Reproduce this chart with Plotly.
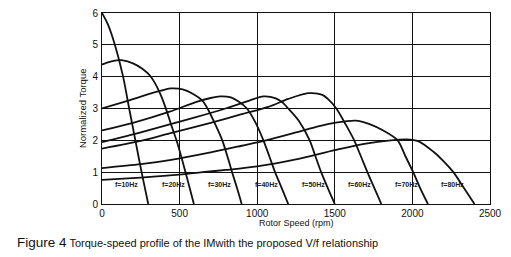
import plotly.graph_objects as go

freqs = [10, 20, 30, 40, 50, 60, 70, 80]

speed_10 = [0, 40, 83, 136, 175, 215, 255, 298]
torque_10 = [6.0, 5.62, 5.0, 4.0, 3.0, 2.0, 1.0, 0.0]

speed_20 = [0, 60, 125, 200, 260, 310, 350, 385, 415, 445, 480, 510, 538, 565, 592]
torque_20 = [4.38, 4.48, 4.52, 4.42, 4.25, 4.03, 3.72, 3.35, 2.95, 2.5, 2.0, 1.5, 1.0, 0.5, 0.0]

speed_30 = [0, 170, 300, 380, 440, 520, 590, 647, 680, 730, 775, 808, 838, 870, 900]
torque_30 = [3.0, 3.25, 3.45, 3.56, 3.63, 3.6, 3.45, 3.25, 3.0, 2.5, 2.0, 1.5, 1.0, 0.5, 0.0]

speed_40 = [0, 200, 436, 604, 700, 760, 830, 880, 934, 990, 1040, 1078, 1115, 1158, 1200]
torque_40 = [2.31, 2.55, 2.9, 3.2, 3.33, 3.38, 3.35, 3.22, 3.0, 2.55, 2.0, 1.5, 1.0, 0.5, 0.0]

speed_50 = [0, 250, 436, 600, 796, 950, 1040, 1120, 1160, 1200, 1270, 1338, 1375, 1412, 1455, 1500]
torque_50 = [1.94, 2.25, 2.5, 2.72, 3.0, 3.25, 3.38, 3.32, 3.2, 3.0, 2.6, 2.0, 1.5, 1.0, 0.5, 0.0]

speed_60 = [0, 250, 436, 700, 900, 1072, 1200, 1330, 1420, 1455, 1510, 1570, 1625, 1668, 1710, 1755, 1800]
torque_60 = [1.74, 1.98, 2.22, 2.55, 2.82, 3.05, 3.3, 3.48, 3.43, 3.3, 3.0, 2.5, 2.0, 1.5, 1.0, 0.5, 0.0]

speed_70 = [0, 250, 436, 700, 900, 1057, 1250, 1400, 1500, 1633, 1720, 1815, 1905, 1955, 2005, 2050, 2100]
torque_70 = [1.13, 1.25, 1.38, 1.62, 1.83, 2.0, 2.25, 2.45, 2.55, 2.62, 2.52, 2.3, 2.0, 1.5, 1.0, 0.5, 0.0]

speed_80 = [0, 250, 500, 647, 800, 1000, 1250, 1500, 1700, 1860, 1960, 2040, 2136, 2200, 2264, 2330, 2400]
torque_80 = [0.76, 0.83, 0.92, 1.0, 1.07, 1.18, 1.4, 1.69, 1.9, 2.0, 2.03, 1.97, 1.64, 1.35, 1.0, 0.52, 0.0]

speeds = [speed_10, speed_20, speed_30, speed_40, speed_50, speed_60, speed_70, speed_80]
torques = [torque_10, torque_20, torque_30, torque_40, torque_50, torque_60, torque_70, torque_80]

x_ticks = [0, 500, 1000, 1500, 2000, 2500]
y_ticks = [0, 1, 2, 3, 4, 5, 6]

FONT = "Arial, Liberation Sans, sans-serif"

fig = go.Figure()
for s, t in zip(speeds, torques):
    fig.add_trace(go.Scatter(x=s, y=t, mode="lines",
                             line=dict(color="#111111", width=1.8, shape="spline", smoothing=0.8),
                             showlegend=False, hoverinfo="skip"))

for f in freqs:
    fig.add_annotation(x=30 * f - 140, y=0.62, text=f"<b>f={f}Hz</b>", showarrow=False,
                       font=dict(family=FONT, size=7, color="#222222"))

fig.add_annotation(xref="paper", yref="paper", x=0.5, y=-0.065, yanchor="top",
                   text="Rotor Speed (rpm)", showarrow=False, font=dict(family=FONT, size=9, color="#111111"))
fig.add_annotation(xref="paper", yref="paper", x=-0.05, xanchor="center", y=0.5, textangle=-90,
                   text="Normalized Torque", showarrow=False, font=dict(family=FONT, size=9.5, color="#111111"))
fig.add_annotation(xref="paper", yref="paper", x=-0.225, xanchor="left", y=-0.15, yanchor="top",
                   text="<span style='font-size:13.5px'>Figure 4</span> Torque-speed profile of the IMwith the proposed V/f relationship",
                   showarrow=False, font=dict(family=FONT, size=11, color="#111111"))

fig.update_xaxes(range=[0, 2500], tickvals=x_ticks, showgrid=True, gridcolor="#111111", gridwidth=1,
                 showline=True, linecolor="#111111", linewidth=1, mirror=True, zeroline=False,
                 ticks="", tickfont=dict(family=FONT, size=10, color="#111111"))
fig.update_yaxes(range=[0, 6], tickvals=y_ticks, showgrid=True, gridcolor="#111111", gridwidth=1,
                 showline=True, linecolor="#111111", linewidth=1, mirror=True, zeroline=False,
                 ticks="", ticklabelstandoff=1, tickfont=dict(family=FONT, size=10, color="#111111"))

fig.update_layout(width=511, height=257, margin=dict(l=102, r=21, t=7, b=53),
                  paper_bgcolor="white", plot_bgcolor="white")

fig.write_html("out.html", config={"displayModeBar": False},
               post_script="document.body.style.margin='0';document.body.style.overflow='hidden';")
